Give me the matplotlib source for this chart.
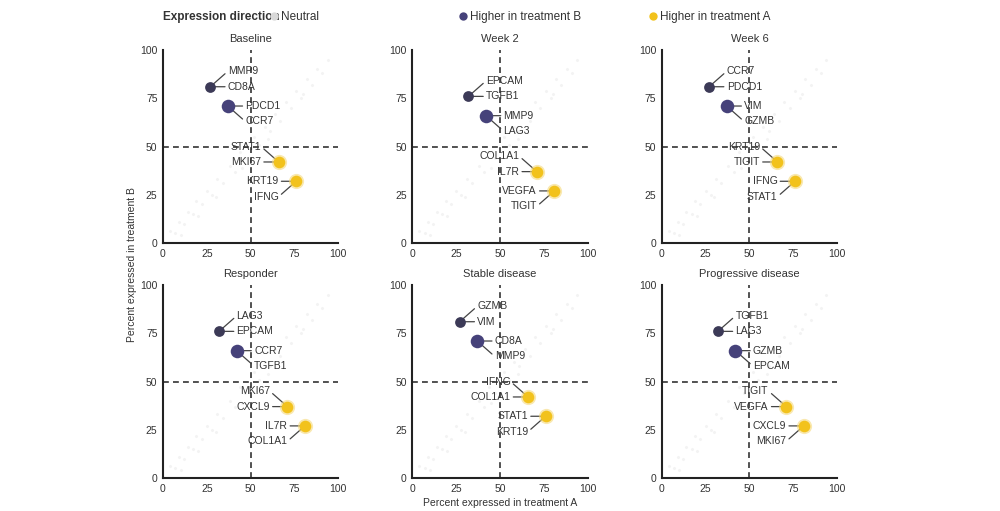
import matplotlib.pyplot as plt
from matplotlib.lines import Line2D

plt.rcParams['font.family'] = ['Liberation Sans', 'DejaVu Sans']

panels = ["Baseline", "Week 2", "Week 6", "Responder", "Stable disease", "Progressive disease"]

# highlighted points per panel: x (treatment A %), y (treatment B %)
hb_x = [[27, 37], [32, 42], [27, 37], [32, 42], [27, 37], [32, 42]]
hb_y = [[81, 71], [76, 66], [81, 71], [76, 66], [81, 71], [76, 66]]
ha_x = [[66, 76], [71, 81], [66, 76], [71, 81], [66, 76], [71, 81]]
ha_y = [[42, 32], [37, 27], [42, 32], [37, 27], [42, 32], [37, 27]]

# two gene labels per point
hb_labels = [
    [["MMP9", "CD8A"], ["PDCD1", "CCR7"]],
    [["EPCAM", "TGFB1"], ["MMP9", "LAG3"]],
    [["CCR7", "PDCD1"], ["VIM", "GZMB"]],
    [["LAG3", "EPCAM"], ["CCR7", "TGFB1"]],
    [["GZMB", "VIM"], ["CD8A", "MMP9"]],
    [["TGFB1", "LAG3"], ["GZMB", "EPCAM"]],
]
ha_labels = [
    [["STAT1", "MKI67"], ["KRT19", "IFNG"]],
    [["COL1A1", "IL7R"], ["VEGFA", "TIGIT"]],
    [["KRT19", "TIGIT"], ["IFNG", "STAT1"]],
    [["MKI67", "CXCL9"], ["IL7R", "COL1A1"]],
    [["IFNG", "COL1A1"], ["STAT1", "KRT19"]],
    [["TIGIT", "VEGFA"], ["CXCL9", "MKI67"]],
]

# faint neutral genes near the diagonal
neutral_x = [4, 7, 9, 12, 14, 17, 19, 22, 25, 28, 31, 34, 38, 41, 44, 47, 52, 55, 58,
             61, 64, 67, 70, 73, 76, 79, 82, 85, 88, 91, 94, 10, 20, 30, 45, 60, 80]
neutral_y = [6, 5, 11, 10, 16, 15, 22, 20, 27, 25, 33, 31, 40, 37, 47, 44, 55, 51, 60,
             58, 67, 63, 73, 70, 79, 75, 85, 82, 90, 88, 95, 4, 14, 24, 39, 54, 77]

purple_dark = "#3c3a57"
purple = "#46427a"
gold = "#f2c21c"
ink = "#333333"

fig, axes = plt.subplots(2, 3, figsize=(10, 5.11), dpi=100)
fig.subplots_adjust(left=0.163, right=0.837, top=0.902, bottom=0.0646,
                    wspace=0.424, hspace=0.218)


def label(ax, px, py, text, dx, dy):
    ha = 'left' if dx > 0 else 'right'
    ax.annotate(text, xy=(px, py), xytext=(px + dx, py + dy),
                ha=ha, va='center', fontsize=7.5, color=ink,
                arrowprops=dict(arrowstyle='-', color='#444444', lw=0.9,
                                shrinkA=0, shrinkB=0,
                                relpos=(0, 0.5) if dx > 0 else (1, 0.5)),
                zorder=4)


for i, ax in enumerate(axes.flat):
    ax.scatter(neutral_x, neutral_y, s=5, color="#f1f1f1", alpha=0.8,
               linewidths=0, zorder=1)
    ax.axvline(50, color=ink, lw=1.2, ls=(0, (3.5, 2.5)), zorder=2)
    ax.axhline(50, color=ink, lw=1.2, ls=(0, (3.5, 2.5)), zorder=2)

    ax.scatter(hb_x[i][0], hb_y[i][0], s=60, color=purple_dark, zorder=5, linewidths=0)
    ax.scatter(hb_x[i][1], hb_y[i][1], s=95, color=purple, zorder=5, linewidths=0)
    for k in range(2):
        ax.scatter(ha_x[i][k], ha_y[i][k], s=120, color="#f6da7c", alpha=0.6,
                   zorder=5, linewidths=0)
        ax.scatter(ha_x[i][k], ha_y[i][k], s=70, color=gold, zorder=6, linewidths=0)

    # purple: first point labels up-right and right, second right and down-right
    label(ax, hb_x[i][0], hb_y[i][0], hb_labels[i][0][0], 10, 8)
    label(ax, hb_x[i][0], hb_y[i][0], hb_labels[i][0][1], 10, 0)
    label(ax, hb_x[i][1], hb_y[i][1], hb_labels[i][1][0], 10, 0)
    label(ax, hb_x[i][1], hb_y[i][1], hb_labels[i][1][1], 10, -8)
    # gold: first point labels up-left and left, second left and down-left
    label(ax, ha_x[i][0], ha_y[i][0], ha_labels[i][0][0], -10, 8)
    label(ax, ha_x[i][0], ha_y[i][0], ha_labels[i][0][1], -10, 0)
    label(ax, ha_x[i][1], ha_y[i][1], ha_labels[i][1][0], -10, 0)
    label(ax, ha_x[i][1], ha_y[i][1], ha_labels[i][1][1], -10, -8)

    ax.set_xlim(0, 100)
    ax.set_ylim(0, 100)
    ax.set_xticks([0, 25, 50, 75, 100])
    ax.set_yticks([0, 25, 50, 75, 100])
    ax.tick_params(length=0, pad=4, labelsize=7.5, colors=ink)
    for side in ['top', 'right']:
        ax.spines[side].set_visible(False)
    for side in ['left', 'bottom']:
        ax.spines[side].set_color('#222222')
        ax.spines[side].set_linewidth(1.5)
    ax.set_title(panels[i], fontsize=8, color=ink, pad=6)

fig.text(0.5, 0.015, "Percent expressed in treatment A", ha='center', va='center',
         fontsize=7.5, color=ink)
fig.text(0.132, 0.483, "Percent expressed in treatment B", ha='center', va='center',
         rotation=90, fontsize=7.5, color=ink)

# legend row
fig.text(0.163, 0.966, "Expression direction", ha='left', va='center',
         fontsize=8.5, fontweight='bold', color=ink)
legend_items = [("Neutral", "#d9d9d9", 0.268),
                ("Higher in treatment B", purple, 0.457),
                ("Higher in treatment A", gold, 0.647)]
for name, col, xpos in legend_items:
    h = Line2D([], [], marker='o', ls='', color=col, markersize=6, markeredgewidth=0)
    fig.legend(handles=[h], labels=[name], loc='center left',
               bbox_to_anchor=(xpos, 0.966), frameon=False, fontsize=8.5,
               handletextpad=0.1, borderpad=0, borderaxespad=0,
               labelcolor=ink, handlelength=1.0)

fig.savefig("out.png", dpi=100)
